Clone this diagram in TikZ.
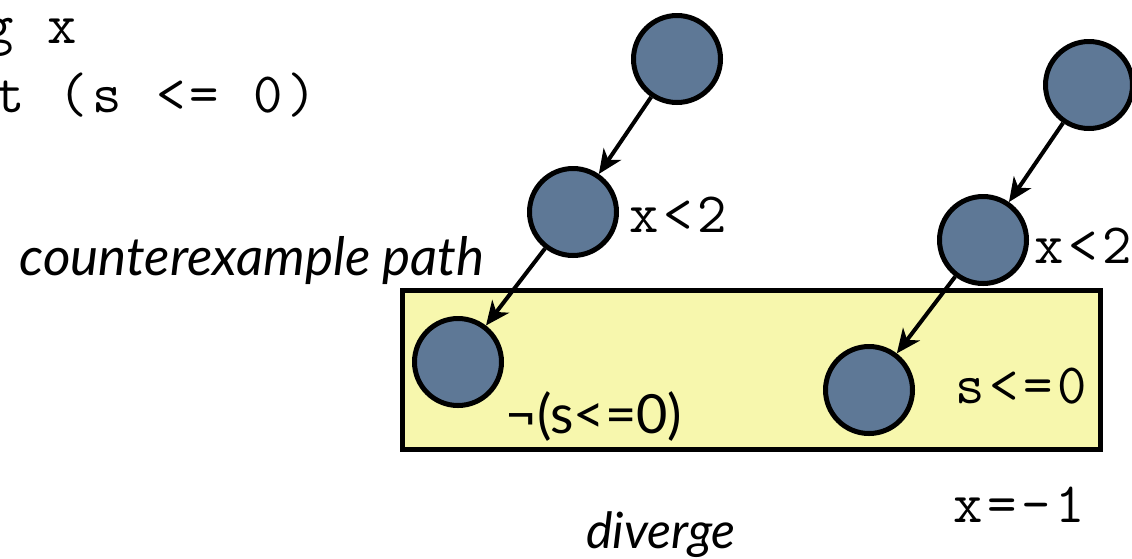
\documentclass[tikz,border=0pt]{standalone}
\usepackage{fontspec}
\newfontfamily\cour{Latin Modern Mono}[LetterSpace=8]
\newfontfamily\gill{Lato}
\usetikzlibrary{arrows.meta}
\definecolor{nodeblue}{RGB}{94,120,150}
\definecolor{boxyellow}{RGB}{247,247,173}
\tikzset{
  state/.style={circle, draw=black, line width=5pt, fill=nodeblue, minimum size=87pt, inner sep=0pt},
  edge/.style={line width=4pt, -{Stealth[length=24pt,width=21pt,inset=7pt]}},
  code/.style={font=\cour\fontsize{57}{60}\selectfont, inner sep=0pt, anchor=base},
  gtext/.style={font=\gill\itshape\fontsize{53}{56}\selectfont, inner sep=0pt, anchor=base},
  dtext/.style={font=\gill\itshape\fontsize{50}{54}\selectfont, inner sep=0pt, anchor=base},
  glabel/.style={font=\gill\fontsize{54}{58}\selectfont, inner sep=0pt, anchor=base},
}
\begin{document}
\begin{tikzpicture}[x=1pt,y=-1pt]
\useasboundingbox (0,0) rectangle (1132,558);
\clip (0,0) rectangle (1132,558);
% code fragment (cut off at the left)
\node[code] (l1) at (31,43) {g x};
\node[code] (l2) at (156,112) {t (s <= 0)};
% yellow box
\node[draw=black, line width=5pt, fill=boxyellow, minimum width=698pt, minimum height=159pt, inner sep=0pt] (box) at (751,369.5) {};
% states
\node[state] (a) at (677,59) {};
\node[state] (b) at (573,212) {};
\node[state] (c) at (458,362) {};
\node[state] (d) at (1089,85) {};
\node[state] (e) at (983,240) {};
\node[state] (f) at (869,390) {};
\draw[edge] (a) -- (b);
\draw[edge] (b) -- (c);
\draw[edge] (d) -- (e);
\draw[edge] (e) -- (f);
% labels
\node[code] (lb) at (678,232) {x<2};
\node[code] (le) at (1083,263) {x<2};
\node[code] (lf) at (1021,403) {s<=0};
\node[code] (lx) at (1019,522) {x=-1};
\node[glabel] (lc) at (594,433) {¬(s<=0)};
\node[gtext] (cp) at (252,275) {counterexample path};
\node[dtext] (dv) at (661,548) {diverge};
\end{tikzpicture}
\end{document}
